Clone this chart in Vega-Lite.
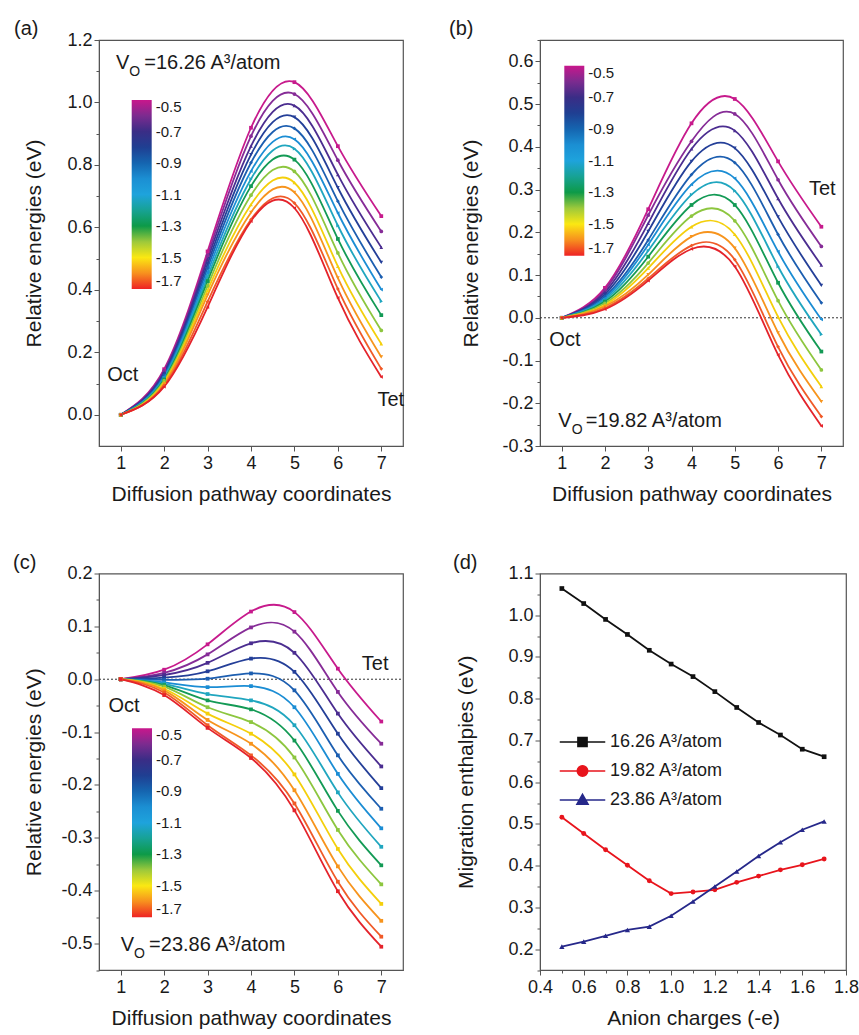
{
  "$schema": "https://vega.github.io/schema/vega-lite/v6.json",
  "padding": {"left": 12, "top": 18, "right": 4, "bottom": 4},
  "background": "white",
  "bounds": "flush",
  "columns": 2,
  "spacing": {"row": 127.5, "column": 137},
  "resolve": {
    "scale": {"x": "independent", "y": "independent", "color": "independent", "fill": "independent", "shape": "independent"},
    "legend": {"color": "independent", "fill": "independent", "shape": "independent"}
  },
  "config": {
    "font": "Liberation Sans",
    "view": {"stroke": "#555555", "strokeWidth": 1.2},
    "axis": {
      "grid": false, "labelFont": "Liberation Sans", "titleFont": "Liberation Sans",
      "labelFontSize": 18, "titleFontSize": 21, "titleFontWeight": "normal",
      "labelColor": "#1a1a1a", "titleColor": "#1a1a1a", "domainColor": "#555555", "tickColor": "#555555",
      "labelPadding": 2, "labelFlush": false, "labelOverlap": false, "tickSize": 5
    },
    "axisX": {"titlePadding": 11, "labelPadding": 3},
    "axisY": {"titlePadding": 12},
    "legend": {"labelFont": "Liberation Sans"},
    "title": {"font": "Liberation Sans"}
  },
  "datasets": {
    "pa": [
      {"c":-0.5,"x":1,"y":0},{"c":-0.5,"x":2,"y":0.146},{"c":-0.5,"x":3,"y":0.523},{"c":-0.5,"x":4,"y":0.919},{"c":-0.5,"x":5,"y":1.065},{"c":-0.5,"x":6,"y":0.860},{"c":-0.5,"x":7,"y":0.636},
      {"c":-0.6,"x":1,"y":0},{"c":-0.6,"x":2,"y":0.141},{"c":-0.6,"x":3,"y":0.510},{"c":-0.6,"x":4,"y":0.892},{"c":-0.6,"x":5,"y":1.027},{"c":-0.6,"x":6,"y":0.815},{"c":-0.6,"x":7,"y":0.587},
      {"c":-0.7,"x":1,"y":0},{"c":-0.7,"x":2,"y":0.136},{"c":-0.7,"x":3,"y":0.497},{"c":-0.7,"x":4,"y":0.860},{"c":-0.7,"x":5,"y":0.990},{"c":-0.7,"x":6,"y":0.769},{"c":-0.7,"x":7,"y":0.536},
      {"c":-0.8,"x":1,"y":0},{"c":-0.8,"x":2,"y":0.131},{"c":-0.8,"x":3,"y":0.483},{"c":-0.8,"x":4,"y":0.833},{"c":-0.8,"x":5,"y":0.953},{"c":-0.8,"x":6,"y":0.727},{"c":-0.8,"x":7,"y":0.488},
      {"c":-0.9,"x":1,"y":0},{"c":-0.9,"x":2,"y":0.127},{"c":-0.9,"x":3,"y":0.470},{"c":-0.9,"x":4,"y":0.807},{"c":-0.9,"x":5,"y":0.917},{"c":-0.9,"x":6,"y":0.684},{"c":-0.9,"x":7,"y":0.441},
      {"c":-1.0,"x":1,"y":0},{"c":-1.0,"x":2,"y":0.122},{"c":-1.0,"x":3,"y":0.456},{"c":-1.0,"x":4,"y":0.780},{"c":-1.0,"x":5,"y":0.882},{"c":-1.0,"x":6,"y":0.646},{"c":-1.0,"x":7,"y":0.401},
      {"c":-1.1,"x":1,"y":0},{"c":-1.1,"x":2,"y":0.118},{"c":-1.1,"x":3,"y":0.442},{"c":-1.1,"x":4,"y":0.755},{"c":-1.1,"x":5,"y":0.852},{"c":-1.1,"x":6,"y":0.606},{"c":-1.1,"x":7,"y":0.363},
      {"c":-1.2,"x":1,"y":0},{"c":-1.2,"x":2,"y":0.113},{"c":-1.2,"x":3,"y":0.428},{"c":-1.2,"x":4,"y":0.732},{"c":-1.2,"x":5,"y":0.817},{"c":-1.2,"x":6,"y":0.563},{"c":-1.2,"x":7,"y":0.319},
      {"c":-1.3,"x":1,"y":0},{"c":-1.3,"x":2,"y":0.109},{"c":-1.3,"x":3,"y":0.413},{"c":-1.3,"x":4,"y":0.703},{"c":-1.3,"x":5,"y":0.779},{"c":-1.3,"x":6,"y":0.518},{"c":-1.3,"x":7,"y":0.270},
      {"c":-1.4,"x":1,"y":0},{"c":-1.4,"x":2,"y":0.104},{"c":-1.4,"x":3,"y":0.398},{"c":-1.4,"x":4,"y":0.673},{"c":-1.4,"x":5,"y":0.743},{"c":-1.4,"x":6,"y":0.475},{"c":-1.4,"x":7,"y":0.227},
      {"c":-1.5,"x":1,"y":0},{"c":-1.5,"x":2,"y":0.099},{"c":-1.5,"x":3,"y":0.383},{"c":-1.5,"x":4,"y":0.648},{"c":-1.5,"x":5,"y":0.712},{"c":-1.5,"x":6,"y":0.438},{"c":-1.5,"x":7,"y":0.185},
      {"c":-1.6,"x":1,"y":0},{"c":-1.6,"x":2,"y":0.094},{"c":-1.6,"x":3,"y":0.362},{"c":-1.6,"x":4,"y":0.625},{"c":-1.6,"x":5,"y":0.678},{"c":-1.6,"x":6,"y":0.403},{"c":-1.6,"x":7,"y":0.147},
      {"c":-1.7,"x":1,"y":0},{"c":-1.7,"x":2,"y":0.090},{"c":-1.7,"x":3,"y":0.345},{"c":-1.7,"x":4,"y":0.620},{"c":-1.7,"x":5,"y":0.662},{"c":-1.7,"x":6,"y":0.374},{"c":-1.7,"x":7,"y":0.121}
    ],
    "pb": [
      {"c":-0.5,"x":1,"y":0},{"c":-0.5,"x":2,"y":0.070},{"c":-0.5,"x":3,"y":0.254},{"c":-0.5,"x":4,"y":0.455},{"c":-0.5,"x":5,"y":0.512},{"c":-0.5,"x":6,"y":0.366},{"c":-0.5,"x":7,"y":0.213},
      {"c":-0.6,"x":1,"y":0},{"c":-0.6,"x":2,"y":0.065},{"c":-0.6,"x":3,"y":0.240},{"c":-0.6,"x":4,"y":0.413},{"c":-0.6,"x":5,"y":0.477},{"c":-0.6,"x":6,"y":0.323},{"c":-0.6,"x":7,"y":0.167},
      {"c":-0.7,"x":1,"y":0},{"c":-0.7,"x":2,"y":0.060},{"c":-0.7,"x":3,"y":0.221},{"c":-0.7,"x":4,"y":0.395},{"c":-0.7,"x":5,"y":0.438},{"c":-0.7,"x":6,"y":0.279},{"c":-0.7,"x":7,"y":0.123},
      {"c":-0.8,"x":1,"y":0},{"c":-0.8,"x":2,"y":0.055},{"c":-0.8,"x":3,"y":0.202},{"c":-0.8,"x":4,"y":0.366},{"c":-0.8,"x":5,"y":0.397},{"c":-0.8,"x":6,"y":0.236},{"c":-0.8,"x":7,"y":0.076},
      {"c":-0.9,"x":1,"y":0},{"c":-0.9,"x":2,"y":0.050},{"c":-0.9,"x":3,"y":0.182},{"c":-0.9,"x":4,"y":0.335},{"c":-0.9,"x":5,"y":0.363},{"c":-0.9,"x":6,"y":0.195},{"c":-0.9,"x":7,"y":0.035},
      {"c":-1.0,"x":1,"y":0},{"c":-1.0,"x":2,"y":0.046},{"c":-1.0,"x":3,"y":0.171},{"c":-1.0,"x":4,"y":0.312},{"c":-1.0,"x":5,"y":0.326},{"c":-1.0,"x":6,"y":0.155},{"c":-1.0,"x":7,"y":-0.004},
      {"c":-1.1,"x":1,"y":0},{"c":-1.1,"x":2,"y":0.042},{"c":-1.1,"x":3,"y":0.157},{"c":-1.1,"x":4,"y":0.288},{"c":-1.1,"x":5,"y":0.297},{"c":-1.1,"x":6,"y":0.120},{"c":-1.1,"x":7,"y":-0.039},
      {"c":-1.2,"x":1,"y":0},{"c":-1.2,"x":2,"y":0.038},{"c":-1.2,"x":3,"y":0.143},{"c":-1.2,"x":4,"y":0.264},{"c":-1.2,"x":5,"y":0.264},{"c":-1.2,"x":6,"y":0.082},{"c":-1.2,"x":7,"y":-0.079},
      {"c":-1.3,"x":1,"y":0},{"c":-1.3,"x":2,"y":0.034},{"c":-1.3,"x":3,"y":0.128},{"c":-1.3,"x":4,"y":0.238},{"c":-1.3,"x":5,"y":0.227},{"c":-1.3,"x":6,"y":0.040},{"c":-1.3,"x":7,"y":-0.122},
      {"c":-1.4,"x":1,"y":0},{"c":-1.4,"x":2,"y":0.030},{"c":-1.4,"x":3,"y":0.116},{"c":-1.4,"x":4,"y":0.213},{"c":-1.4,"x":5,"y":0.195},{"c":-1.4,"x":6,"y":0.002},{"c":-1.4,"x":7,"y":-0.161},
      {"c":-1.5,"x":1,"y":0},{"c":-1.5,"x":2,"y":0.027},{"c":-1.5,"x":3,"y":0.101},{"c":-1.5,"x":4,"y":0.190},{"c":-1.5,"x":5,"y":0.163},{"c":-1.5,"x":6,"y":-0.035},{"c":-1.5,"x":7,"y":-0.196},
      {"c":-1.6,"x":1,"y":0},{"c":-1.6,"x":2,"y":0.023},{"c":-1.6,"x":3,"y":0.092},{"c":-1.6,"x":4,"y":0.169},{"c":-1.6,"x":5,"y":0.136},{"c":-1.6,"x":6,"y":-0.068},{"c":-1.6,"x":7,"y":-0.231},
      {"c":-1.7,"x":1,"y":0},{"c":-1.7,"x":2,"y":0.020},{"c":-1.7,"x":3,"y":0.087},{"c":-1.7,"x":4,"y":0.161},{"c":-1.7,"x":5,"y":0.120},{"c":-1.7,"x":6,"y":-0.087},{"c":-1.7,"x":7,"y":-0.253}
    ],
    "pc": [
      {"c":-0.5,"x":1,"y":0},{"c":-0.5,"x":2,"y":0.018},{"c":-0.5,"x":3,"y":0.066},{"c":-0.5,"x":4,"y":0.128},{"c":-0.5,"x":5,"y":0.127},{"c":-0.5,"x":6,"y":0.020},{"c":-0.5,"x":7,"y":-0.080},
      {"c":-0.6,"x":1,"y":0},{"c":-0.6,"x":2,"y":0.012},{"c":-0.6,"x":3,"y":0.047},{"c":-0.6,"x":4,"y":0.098},{"c":-0.6,"x":5,"y":0.090},{"c":-0.6,"x":6,"y":-0.024},{"c":-0.6,"x":7,"y":-0.122},
      {"c":-0.7,"x":1,"y":0},{"c":-0.7,"x":2,"y":0.008},{"c":-0.7,"x":3,"y":0.031},{"c":-0.7,"x":4,"y":0.068},{"c":-0.7,"x":5,"y":0.050},{"c":-0.7,"x":6,"y":-0.065},{"c":-0.7,"x":7,"y":-0.165},
      {"c":-0.8,"x":1,"y":0},{"c":-0.8,"x":2,"y":0.003},{"c":-0.8,"x":3,"y":0.015},{"c":-0.8,"x":4,"y":0.039},{"c":-0.8,"x":5,"y":0.014},{"c":-0.8,"x":6,"y":-0.103},{"c":-0.8,"x":7,"y":-0.206},
      {"c":-0.9,"x":1,"y":0},{"c":-0.9,"x":2,"y":-0.001},{"c":-0.9,"x":3,"y":0.001},{"c":-0.9,"x":4,"y":0.011},{"c":-0.9,"x":5,"y":-0.021},{"c":-0.9,"x":6,"y":-0.144},{"c":-0.9,"x":7,"y":-0.245},
      {"c":-1.0,"x":1,"y":0},{"c":-1.0,"x":2,"y":-0.006},{"c":-1.0,"x":3,"y":-0.015},{"c":-1.0,"x":4,"y":-0.013},{"c":-1.0,"x":5,"y":-0.053},{"c":-1.0,"x":6,"y":-0.179},{"c":-1.0,"x":7,"y":-0.282},
      {"c":-1.1,"x":1,"y":0},{"c":-1.1,"x":2,"y":-0.009},{"c":-1.1,"x":3,"y":-0.028},{"c":-1.1,"x":4,"y":-0.040},{"c":-1.1,"x":5,"y":-0.087},{"c":-1.1,"x":6,"y":-0.214},{"c":-1.1,"x":7,"y":-0.317},
      {"c":-1.2,"x":1,"y":0},{"c":-1.2,"x":2,"y":-0.011},{"c":-1.2,"x":3,"y":-0.040},{"c":-1.2,"x":4,"y":-0.057},{"c":-1.2,"x":5,"y":-0.116},{"c":-1.2,"x":6,"y":-0.249},{"c":-1.2,"x":7,"y":-0.352},
      {"c":-1.3,"x":1,"y":0},{"c":-1.3,"x":2,"y":-0.014},{"c":-1.3,"x":3,"y":-0.053},{"c":-1.3,"x":4,"y":-0.081},{"c":-1.3,"x":5,"y":-0.148},{"c":-1.3,"x":6,"y":-0.285},{"c":-1.3,"x":7,"y":-0.388},
      {"c":-1.4,"x":1,"y":0},{"c":-1.4,"x":2,"y":-0.018},{"c":-1.4,"x":3,"y":-0.065},{"c":-1.4,"x":4,"y":-0.103},{"c":-1.4,"x":5,"y":-0.180},{"c":-1.4,"x":6,"y":-0.321},{"c":-1.4,"x":7,"y":-0.425},
      {"c":-1.5,"x":1,"y":0},{"c":-1.5,"x":2,"y":-0.021},{"c":-1.5,"x":3,"y":-0.077},{"c":-1.5,"x":4,"y":-0.122},{"c":-1.5,"x":5,"y":-0.210},{"c":-1.5,"x":6,"y":-0.354},{"c":-1.5,"x":7,"y":-0.457},
      {"c":-1.6,"x":1,"y":0},{"c":-1.6,"x":2,"y":-0.025},{"c":-1.6,"x":3,"y":-0.087},{"c":-1.6,"x":4,"y":-0.144},{"c":-1.6,"x":5,"y":-0.235},{"c":-1.6,"x":6,"y":-0.383},{"c":-1.6,"x":7,"y":-0.487},
      {"c":-1.7,"x":1,"y":0},{"c":-1.7,"x":2,"y":-0.030},{"c":-1.7,"x":3,"y":-0.092},{"c":-1.7,"x":4,"y":-0.149},{"c":-1.7,"x":5,"y":-0.248},{"c":-1.7,"x":6,"y":-0.401},{"c":-1.7,"x":7,"y":-0.506}
    ],
    "pd": [
      {"s":"16.26 A³/atom","x":0.5,"y":1.064},{"s":"16.26 A³/atom","x":0.6,"y":1.028},{"s":"16.26 A³/atom","x":0.7,"y":0.990},{"s":"16.26 A³/atom","x":0.8,"y":0.954},{"s":"16.26 A³/atom","x":0.9,"y":0.916},{"s":"16.26 A³/atom","x":1.0,"y":0.883},{"s":"16.26 A³/atom","x":1.1,"y":0.853},{"s":"16.26 A³/atom","x":1.2,"y":0.817},{"s":"16.26 A³/atom","x":1.3,"y":0.779},{"s":"16.26 A³/atom","x":1.4,"y":0.743},{"s":"16.26 A³/atom","x":1.5,"y":0.713},{"s":"16.26 A³/atom","x":1.6,"y":0.679},{"s":"16.26 A³/atom","x":1.7,"y":0.661},
      {"s":"19.82 A³/atom","x":0.5,"y":0.516},{"s":"19.82 A³/atom","x":0.6,"y":0.477},{"s":"19.82 A³/atom","x":0.7,"y":0.438},{"s":"19.82 A³/atom","x":0.8,"y":0.401},{"s":"19.82 A³/atom","x":0.9,"y":0.364},{"s":"19.82 A³/atom","x":1.0,"y":0.333},{"s":"19.82 A³/atom","x":1.1,"y":0.337},{"s":"19.82 A³/atom","x":1.2,"y":0.342},{"s":"19.82 A³/atom","x":1.3,"y":0.360},{"s":"19.82 A³/atom","x":1.4,"y":0.375},{"s":"19.82 A³/atom","x":1.5,"y":0.390},{"s":"19.82 A³/atom","x":1.6,"y":0.402},{"s":"19.82 A³/atom","x":1.7,"y":0.416},
      {"s":"23.86 A³/atom","x":0.5,"y":0.206},{"s":"23.86 A³/atom","x":0.6,"y":0.218},{"s":"23.86 A³/atom","x":0.7,"y":0.232},{"s":"23.86 A³/atom","x":0.8,"y":0.246},{"s":"23.86 A³/atom","x":0.9,"y":0.254},{"s":"23.86 A³/atom","x":1.0,"y":0.280},{"s":"23.86 A³/atom","x":1.1,"y":0.314},{"s":"23.86 A³/atom","x":1.2,"y":0.350},{"s":"23.86 A³/atom","x":1.3,"y":0.386},{"s":"23.86 A³/atom","x":1.4,"y":0.423},{"s":"23.86 A³/atom","x":1.5,"y":0.456},{"s":"23.86 A³/atom","x":1.6,"y":0.486},{"s":"23.86 A³/atom","x":1.7,"y":0.506}
    ]
  },
  "concat": [
    {
      "width": 304, "height": 406,
      "title": {"text": "(a)", "anchor": "start", "frame": "group", "dx": -85, "offset": -24, "baseline": "alphabetic", "fontSize": 20, "fontWeight": "normal", "color": "#1a1a1a"},
      "data": {"name": "pa"},
      "encoding": {
        "x": {"field": "x", "type": "quantitative", "scale": {"domain": [0.5, 7.5]},
              "axis": {"title": "Diffusion pathway coordinates", "values": [1,2,3,4,5,6,7], "format": "d"}},
        "y": {"field": "y", "type": "quantitative", "scale": {"domain": [-0.1, 1.2]},
              "axis": {"title": "Relative energies (eV)", "titlePadding": 22, "values": [0,0.1,0.2,0.3,0.4,0.5,0.6,0.7,0.8,0.9,1.0,1.1,1.2],
                       "labelExpr": "round(datum.value*10) % 2 == 0 ? format(datum.value, '.1f') : ''",
                       "tickSize": {"condition": {"test": "round(datum.value*10) % 2 == 0", "value": 5}, "value": 3}}}
      },
      "layer": [
        {"mark": {"type": "line", "interpolate": "natural", "strokeWidth": 1.8},
         "encoding": {"color": {"field": "c", "type": "ordinal", "legend": null,
           "scale": {"domain": [-0.5,-0.6,-0.7,-0.8,-0.9,-1.0,-1.1,-1.2,-1.3,-1.4,-1.5,-1.6,-1.7],
                     "range": ["#c71a8c","#862c97","#4b2d90","#243f98","#1c5eb0","#1b8dd4","#20a6bf","#139a55","#8dc63f","#f4cf0b","#f7941d","#f05a28","#e4232b"]}}}},
        {"mark": {"type": "point", "filled": true, "size": 14, "opacity": 1},
         "encoding": {"color": {"field": "c", "type": "ordinal", "legend": null,
           "scale": {"domain": [-0.5,-0.6,-0.7,-0.8,-0.9,-1.0,-1.1,-1.2,-1.3,-1.4,-1.5,-1.6,-1.7],
                     "range": ["#c71a8c","#862c97","#4b2d90","#243f98","#1c5eb0","#1b8dd4","#20a6bf","#139a55","#8dc63f","#f4cf0b","#f7941d","#f05a28","#e4232b"]}},
           "shape": {"field": "c", "type": "ordinal", "legend": null,
           "scale": {"domain": [-0.5,-0.6,-0.7,-0.8,-0.9,-1.0,-1.1,-1.2,-1.3,-1.4,-1.5,-1.6,-1.7],
                     "range": ["square","circle","triangle-up","triangle-down","diamond","triangle-left","triangle-right","square","circle","triangle-up","triangle-down","diamond","triangle-left"]}}}},
        {"mark": {"type": "point", "size": 0, "strokeWidth": 0, "opacity": 1},
         "encoding": {"fill": {"field": "c", "type": "quantitative",
           "scale": {"domain": [-1.7,-1.6,-1.5,-1.4,-1.3,-1.2,-1.1,-1.0,-0.9,-0.8,-0.7,-0.6,-0.5],
                     "range": ["#ee2224","#f7901e","#fbe812","#9dc93b","#0d9a48","#17a294","#1ea3dc","#1b8fd3","#1565b0","#1f3f92","#3a2d86","#7c2b8f","#c8178c"]},
           "legend": {"orient": "none", "legendX": 32.7, "legendY": 60, "direction": "vertical", "title": null,
                      "gradientLength": 189, "gradientThickness": 20, "gradientStrokeWidth": 0,
                      "values": [-0.5,-0.7,-0.9,-1.1,-1.3,-1.5,-1.7],
                      "labelExpr": "replace(format(datum.value, '.1f'), '\u2212', '-')",
                      "labelFontSize": 15, "labelOffset": 4, "labelColor": "#1a1a1a", "padding": 0, "labelOverlap": false, "labelBaseline": "middle"}}}},
        {"data": {"values": [{"x": 1.196, "y": 1.106, "t1": "V", "t2": "O", "t3": "=16.26 A³/atom"}]},
         "mark": {"type": "text", "align": "right", "baseline": "alphabetic", "fontSize": 20, "color": "#1a1a1a"},
         "encoding": {"text": {"field": "t1"}}},
        {"data": {"values": [{"x": 1.196, "y": 1.106, "t1": "V", "t2": "O", "t3": "=16.26 A³/atom"}]},
         "mark": {"type": "text", "align": "left", "baseline": "alphabetic", "fontSize": 14, "dy": 6.5, "color": "#1a1a1a"},
         "encoding": {"text": {"field": "t2"}}},
        {"data": {"values": [{"x": 1.196, "y": 1.106, "t1": "V", "t2": "O", "t3": "=16.26 A³/atom"}]},
         "mark": {"type": "text", "align": "left", "baseline": "alphabetic", "fontSize": 20, "dx": 15, "color": "#1a1a1a"},
         "encoding": {"text": {"field": "t3"}}},
        {"data": {"values": [{"x": 1.046, "y": 0.109, "t": "Oct"}, {"x": 7.22, "y": 0.029, "t": "Tet"}]},
         "mark": {"type": "text", "align": "center", "baseline": "alphabetic", "fontSize": 20, "color": "#1a1a1a"},
         "encoding": {"text": {"field": "t"}}}
      ]
    },
    {
      "width": 303, "height": 406,
      "title": {"text": "(b)", "anchor": "start", "frame": "group", "dx": -91, "offset": -24, "baseline": "alphabetic", "fontSize": 20, "fontWeight": "normal", "color": "#1a1a1a"},
      "data": {"name": "pb"},
      "encoding": {
        "x": {"field": "x", "type": "quantitative", "scale": {"domain": [0.5, 7.5]},
              "axis": {"title": "Diffusion pathway coordinates", "values": [1,2,3,4,5,6,7], "format": "d"}},
        "y": {"field": "y", "type": "quantitative", "scale": {"domain": [-0.3, 0.65]},
              "axis": {"title": "Relative energies (eV)", "titlePadding": 20, "values": [-0.3,-0.25,-0.2,-0.15,-0.1,-0.05,0,0.05,0.1,0.15,0.2,0.25,0.3,0.35,0.4,0.45,0.5,0.55,0.6,0.65],
                       "labelExpr": "round(datum.value*100) % 10 == 0 ? replace(format(datum.value, '.1f'), '\u2212', '-') : ''",
                       "tickSize": {"condition": {"test": "round(datum.value*100) % 10 == 0", "value": 5}, "value": 3}}}
      },
      "layer": [
        {"data": {"values": [{"x": 0.5, "y": 0}, {"x": 7.5, "y": 0}]},
         "mark": {"type": "line", "strokeDash": [2, 2], "strokeWidth": 1, "color": "#333333"}},
        {"mark": {"type": "line", "interpolate": "natural", "strokeWidth": 1.8},
         "encoding": {"color": {"field": "c", "type": "ordinal", "legend": null,
           "scale": {"domain": [-0.5,-0.6,-0.7,-0.8,-0.9,-1.0,-1.1,-1.2,-1.3,-1.4,-1.5,-1.6,-1.7],
                     "range": ["#c71a8c","#862c97","#4b2d90","#243f98","#1c5eb0","#1b8dd4","#20a6bf","#139a55","#8dc63f","#f4cf0b","#f7941d","#f05a28","#e4232b"]}}}},
        {"mark": {"type": "point", "filled": true, "size": 14, "opacity": 1},
         "encoding": {"color": {"field": "c", "type": "ordinal", "legend": null,
           "scale": {"domain": [-0.5,-0.6,-0.7,-0.8,-0.9,-1.0,-1.1,-1.2,-1.3,-1.4,-1.5,-1.6,-1.7],
                     "range": ["#c71a8c","#862c97","#4b2d90","#243f98","#1c5eb0","#1b8dd4","#20a6bf","#139a55","#8dc63f","#f4cf0b","#f7941d","#f05a28","#e4232b"]}},
           "shape": {"field": "c", "type": "ordinal", "legend": null,
           "scale": {"domain": [-0.5,-0.6,-0.7,-0.8,-0.9,-1.0,-1.1,-1.2,-1.3,-1.4,-1.5,-1.6,-1.7],
                     "range": ["square","circle","triangle-up","triangle-down","diamond","triangle-left","triangle-right","square","circle","triangle-up","triangle-down","diamond","triangle-left"]}}}},
        {"mark": {"type": "point", "size": 0, "strokeWidth": 0, "opacity": 1},
         "encoding": {"fill": {"field": "c", "type": "quantitative",
           "scale": {"domain": [-1.7,-1.6,-1.5,-1.4,-1.3,-1.2,-1.1,-1.0,-0.9,-0.8,-0.7,-0.6,-0.5],
                     "range": ["#ee2224","#f7901e","#fbe812","#9dc93b","#0d9a48","#17a294","#1ea3dc","#1b8fd3","#1565b0","#1f3f92","#3a2d86","#7c2b8f","#c8178c"]},
           "legend": {"orient": "none", "legendX": 24.3, "legendY": 25.7, "direction": "vertical", "title": null,
                      "gradientLength": 190, "gradientThickness": 20, "gradientStrokeWidth": 0,
                      "values": [-0.5,-0.7,-0.9,-1.1,-1.3,-1.5,-1.7],
                      "labelExpr": "replace(format(datum.value, '.1f'), '\u2212', '-')",
                      "labelFontSize": 15, "labelOffset": 4, "labelColor": "#1a1a1a", "padding": 0, "labelOverlap": false, "labelBaseline": "middle"}}}},
        {"data": {"values": [{"x": 1.231, "y": -0.256, "t1": "V", "t2": "O", "t3": "=19.82 A³/atom"}]},
         "mark": {"type": "text", "align": "right", "baseline": "alphabetic", "fontSize": 20, "color": "#1a1a1a"},
         "encoding": {"text": {"field": "t1"}}},
        {"data": {"values": [{"x": 1.231, "y": -0.256, "t1": "V", "t2": "O", "t3": "=19.82 A³/atom"}]},
         "mark": {"type": "text", "align": "left", "baseline": "alphabetic", "fontSize": 14, "dy": 6.5, "color": "#1a1a1a"},
         "encoding": {"text": {"field": "t2"}}},
        {"data": {"values": [{"x": 1.231, "y": -0.256, "t1": "V", "t2": "O", "t3": "=19.82 A³/atom"}]},
         "mark": {"type": "text", "align": "left", "baseline": "alphabetic", "fontSize": 20, "dx": 14, "color": "#1a1a1a"},
         "encoding": {"text": {"field": "t3"}}},
        {"data": {"values": [{"x": 1.076, "y": -0.066, "t": "Oct"}, {"x": 7.02, "y": 0.287, "t": "Tet"}]},
         "mark": {"type": "text", "align": "center", "baseline": "alphabetic", "fontSize": 20, "color": "#1a1a1a"},
         "encoding": {"text": {"field": "t"}}}
      ]
    },
    {
      "width": 304, "height": 396.5,
      "title": {"text": "(c)", "anchor": "start", "frame": "group", "dx": -86, "offset": -24, "baseline": "alphabetic", "fontSize": 20, "fontWeight": "normal", "color": "#1a1a1a"},
      "data": {"name": "pc"},
      "encoding": {
        "x": {"field": "x", "type": "quantitative", "scale": {"domain": [0.5, 7.5]},
              "axis": {"title": "Diffusion pathway coordinates", "values": [1,2,3,4,5,6,7], "format": "d"}},
        "y": {"field": "y", "type": "quantitative", "scale": {"domain": [-0.55, 0.2]},
              "axis": {"title": "Relative energies (eV)", "titlePadding": 16, "values": [-0.55,-0.5,-0.45,-0.4,-0.35,-0.3,-0.25,-0.2,-0.15,-0.1,-0.05,0,0.05,0.1,0.15,0.2],
                       "labelExpr": "round(datum.value*100) % 10 == 0 ? replace(format(datum.value, '.1f'), '\u2212', '-') : ''",
                       "tickSize": {"condition": {"test": "round(datum.value*100) % 10 == 0", "value": 5}, "value": 3}}}
      },
      "layer": [
        {"data": {"values": [{"x": 0.5, "y": 0}, {"x": 7.5, "y": 0}]},
         "mark": {"type": "line", "strokeDash": [2, 2], "strokeWidth": 1, "color": "#333333"}},
        {"mark": {"type": "line", "interpolate": "natural", "strokeWidth": 1.8},
         "encoding": {"color": {"field": "c", "type": "ordinal", "legend": null,
           "scale": {"domain": [-0.5,-0.6,-0.7,-0.8,-0.9,-1.0,-1.1,-1.2,-1.3,-1.4,-1.5,-1.6,-1.7],
                     "range": ["#c71a8c","#862c97","#4b2d90","#243f98","#1c5eb0","#1b8dd4","#20a6bf","#139a55","#8dc63f","#f4cf0b","#f7941d","#f05a28","#e4232b"]}}}},
        {"mark": {"type": "point", "filled": true, "size": 14, "opacity": 1, "shape": "square"},
         "encoding": {"color": {"field": "c", "type": "ordinal", "legend": null,
           "scale": {"domain": [-0.5,-0.6,-0.7,-0.8,-0.9,-1.0,-1.1,-1.2,-1.3,-1.4,-1.5,-1.6,-1.7],
                     "range": ["#c71a8c","#862c97","#4b2d90","#243f98","#1c5eb0","#1b8dd4","#20a6bf","#139a55","#8dc63f","#f4cf0b","#f7941d","#f05a28","#e4232b"]}}}},
        {"mark": {"type": "point", "size": 0, "strokeWidth": 0, "opacity": 1},
         "encoding": {"fill": {"field": "c", "type": "quantitative",
           "scale": {"domain": [-1.7,-1.6,-1.5,-1.4,-1.3,-1.2,-1.1,-1.0,-0.9,-0.8,-0.7,-0.6,-0.5],
                     "range": ["#ee2224","#f7901e","#fbe812","#9dc93b","#0d9a48","#17a294","#1ea3dc","#1b8fd3","#1565b0","#1f3f92","#3a2d86","#7c2b8f","#c8178c"]},
           "legend": {"orient": "none", "legendX": 33, "legendY": 154.8, "direction": "vertical", "title": null,
                      "gradientLength": 189, "gradientThickness": 20, "gradientStrokeWidth": 0,
                      "values": [-0.5,-0.7,-0.9,-1.1,-1.3,-1.5,-1.7],
                      "labelExpr": "replace(format(datum.value, '.1f'), '\u2212', '-')",
                      "labelFontSize": 15, "labelOffset": 4, "labelColor": "#1a1a1a", "padding": 0, "labelOverlap": false, "labelBaseline": "middle"}}}},
        {"data": {"values": [{"x": 1.308, "y": -0.515, "t1": "V", "t2": "O", "t3": "=23.86 A³/atom"}]},
         "mark": {"type": "text", "align": "right", "baseline": "alphabetic", "fontSize": 20, "color": "#1a1a1a"},
         "encoding": {"text": {"field": "t1"}}},
        {"data": {"values": [{"x": 1.308, "y": -0.515, "t1": "V", "t2": "O", "t3": "=23.86 A³/atom"}]},
         "mark": {"type": "text", "align": "left", "baseline": "alphabetic", "fontSize": 14, "dy": 6.5, "color": "#1a1a1a"},
         "encoding": {"text": {"field": "t2"}}},
        {"data": {"values": [{"x": 1.308, "y": -0.515, "t1": "V", "t2": "O", "t3": "=23.86 A³/atom"}]},
         "mark": {"type": "text", "align": "left", "baseline": "alphabetic", "fontSize": 20, "dx": 15, "color": "#1a1a1a"},
         "encoding": {"text": {"field": "t3"}}},
        {"data": {"values": [{"x": 1.077, "y": -0.062, "t": "Oct"}, {"x": 6.86, "y": 0.017, "t": "Tet"}]},
         "mark": {"type": "text", "align": "center", "baseline": "alphabetic", "fontSize": 20, "color": "#1a1a1a"},
         "encoding": {"text": {"field": "t"}}}
      ]
    },
    {
      "width": 306, "height": 396.5,
      "title": {"text": "(d)", "anchor": "start", "frame": "group", "dx": -87, "offset": -24, "baseline": "alphabetic", "fontSize": 20, "fontWeight": "normal", "color": "#1a1a1a"},
      "data": {"name": "pd"},
      "encoding": {
        "x": {"field": "x", "type": "quantitative", "scale": {"domain": [0.4, 1.8]},
              "axis": {"title": "Anion charges (-e)", "values": [0.4,0.5,0.6,0.7,0.8,0.9,1.0,1.1,1.2,1.3,1.4,1.5,1.6,1.7,1.8],
                       "labelExpr": "round(datum.value*10) % 2 == 0 ? format(datum.value, '.1f') : ''",
                       "tickSize": {"condition": {"test": "round(datum.value*10) % 2 == 0", "value": 5}, "value": 3}}},
        "y": {"field": "y", "type": "quantitative", "scale": {"domain": [0.15, 1.1]},
              "axis": {"title": "Migration enthalpies (eV)", "titlePadding": 31, "values": [0.15,0.2,0.25,0.3,0.35,0.4,0.45,0.5,0.55,0.6,0.65,0.7,0.75,0.8,0.85,0.9,0.95,1.0,1.05,1.1],
                       "labelExpr": "round(datum.value*100) % 10 == 0 ? format(datum.value, '.1f') : ''",
                       "tickSize": {"condition": {"test": "round(datum.value*100) % 10 == 0", "value": 5}, "value": 3}}},
        "color": {"field": "s", "type": "nominal",
                  "scale": {"domain": ["16.26 A³/atom", "19.82 A³/atom", "23.86 A³/atom"], "range": ["#111111", "#e8141c", "#26288a"]},
                  "legend": {"orient": "none", "legendX": 33.5, "legendY": 159.5, "title": null, "padding": 0,
                             "symbolSize": 169, "symbolStrokeWidth": 1.6, "labelFontSize": 18, "labelOffset": 18.5, "rowPadding": 11, "labelColor": "#1a1a1a",
                             "encode": {"symbols": {"update": {
                               "shape": {"signal": "datum.value === '16.26 A³/atom' ? 'M-3.5,0H3.5M-0.7,-0.7H0.7V0.7H-0.7Z' : datum.value === '19.82 A³/atom' ? 'M-3.5,0H3.5M0.8,0A0.8,0.8 0 1 1 -0.8,0A0.8,0.8 0 1 1 0.8,0Z' : 'M-3.5,0H3.5M0,-0.85L0.85,0.65H-0.85Z'"},
                               "fill": {"signal": "datum.value === '16.26 A³/atom' ? '#111111' : datum.value === '19.82 A³/atom' ? '#e8141c' : '#26288a'"},
                               "stroke": {"signal": "datum.value === '16.26 A³/atom' ? '#111111' : datum.value === '19.82 A³/atom' ? '#e8141c' : '#26288a'"},
                               "strokeWidth": {"value": 1.6},
                               "opacity": {"value": 1}
                             }}}}}
      },
      "layer": [
        {"mark": {"type": "line", "strokeWidth": 1.8}},
        {"transform": [{"filter": "datum.s === '16.26 A³/atom'"}],
         "mark": {"type": "point", "filled": true, "size": 22, "opacity": 1, "shape": "square"}},
        {"transform": [{"filter": "datum.s === '19.82 A³/atom'"}],
         "mark": {"type": "point", "filled": true, "size": 24, "opacity": 1, "shape": "circle"}},
        {"transform": [{"filter": "datum.s === '23.86 A³/atom'"}],
         "mark": {"type": "point", "filled": true, "size": 28, "opacity": 1, "shape": "triangle-up"}}
      ]
    }
  ]
}
